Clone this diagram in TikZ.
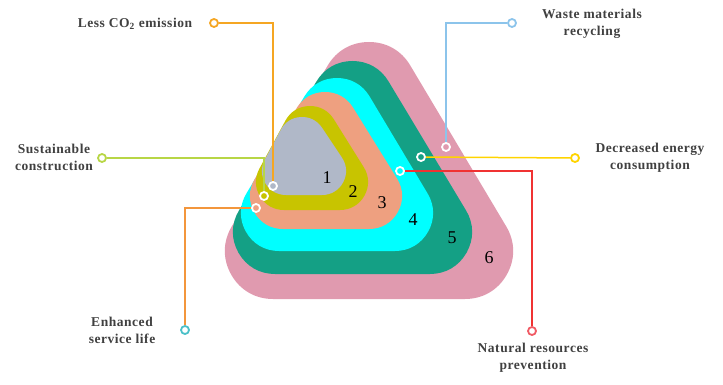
\documentclass[tikz,border=0pt]{standalone}
\usepackage{fontspec}
\setmainfont{Liberation Serif}
\newfontfamily\lblfont[LetterSpace=4]{Liberation Serif}
\definecolor{layerA}{RGB}{176,184,200}
\definecolor{layerB}{RGB}{200,196,0}
\definecolor{layerC}{RGB}{238,160,128}
\definecolor{layerD}{RGB}{0,255,255}
\definecolor{layerE}{RGB}{20,160,133}
\definecolor{layerF}{RGB}{224,154,175}
\definecolor{labelgray}{RGB}{64,64,64}
\definecolor{coOrange}{RGB}{245,166,35}
\definecolor{susGreen}{RGB}{184,214,70}
\definecolor{enhOrange}{RGB}{243,150,60}
\definecolor{enhTeal}{RGB}{75,192,200}
\definecolor{wasBlue}{RGB}{140,196,235}
\definecolor{decYellow}{RGB}{255,212,0}
\definecolor{natRed}{RGB}{240,50,50}
\definecolor{natPink}{RGB}{240,90,100}
\tikzset{
  layer/.style={line join=round},
  ring/.style={circle, draw, line width=1.8pt, inner sep=0pt, minimum size=8pt},
  endring/.style={ring, fill=white},
  onring/.style={ring, draw=white},
  lead/.style={line width=1.5pt},
  lbl/.style={align=center, text=labelgray, font=\lblfont\bfseries\fontsize{13.5}{17}\selectfont},
  num/.style={font=\fontsize{18}{18}\selectfont}
}
\begin{document}
\begin{tikzpicture}[x=1pt, y=-1pt]
        \useasboundingbox (0,0) rectangle (723,385);

        % Layers
        \filldraw[layer, fill=layerF, draw=layerF, line width=96pt] (273,251) -- (465,251) -- (369,90) -- cycle;
        \filldraw[layer, fill=layerE, draw=layerE, line width=84pt] (275,232) -- (430,232) -- (352.5,103) -- cycle;
        \filldraw[layer, fill=layerD, draw=layerD, line width=76pt] (279,213) -- (395,213) -- (337,116) -- cycle;
        \filldraw[layer, fill=layerC, draw=layerC, line width=66pt] (283,196) -- (369,196) -- (325,125) -- cycle;
        \filldraw[layer, fill=layerB, draw=layerB, line width=56pt] (284,182) -- (340,182) -- (310,134) -- cycle;
        \filldraw[layer, fill=layerA, draw=layerA, line width=48pt] (286,171) -- (322,171) -- (302,141) -- cycle;

        % Numbers
        \node[num] (n1) at (327,178) {1};
        \node[num] (n2) at (353,192) {2};
        \node[num] (n3) at (382,203) {3};
        \node[num] (n4) at (413,220) {4};
        \node[num] (n5) at (452,238) {5};
        \node[num] (n6) at (489,258) {6};

        % Points on the layers
        \node[onring] (pCO) at (273,186) {};
        \node[onring] (pSus) at (264,196) {};
        \node[onring] (pEnh) at (256,208) {};
        \node[onring] (pNat) at (400,171) {};
        \node[onring] (pDec) at (421,157) {};
        \node[onring] (pWas) at (446,147) {};

        % End markers
        \node[endring, draw=coOrange] (mCO) at (214,23) {};
        \node[endring, draw=susGreen] (mSus) at (102,158) {};
        \node[endring, draw=enhTeal] (mEnh) at (185,330) {};
        \node[endring, draw=wasBlue] (mWas) at (512,23) {};
        \node[endring, draw=decYellow] (mDec) at (575,158) {};
        \node[endring, draw=natPink] (mNat) at (532,331) {};

        % Labels
        \node[lbl] (tCO) at (135,24) {Less CO\textsubscript{2} emission};
        \node[lbl] (tSus) at (54,157) {Sustainable\\construction};
        \node[lbl] (tEnh) at (122,330) {Enhanced\\service life};
        \node[lbl] (tWas) at (592,24) {Waste materials\\recycling};
        \node[lbl] (tDec) at (650,158) {Decreased energy\\consumption};
        \node[lbl] (tNat) at (533,358) {Natural resources\\prevention};

        % Leads
        \draw[lead, coOrange] (mCO) -| (pCO);
        \draw[lead, susGreen] (mSus) -| (pSus);
        \draw[lead, enhOrange] (mEnh) |- (pEnh);
        \draw[lead, wasBlue] (mWas) -| (pWas);
        \draw[lead, decYellow] (mDec) -- (pDec);
        \draw[lead, natRed] (mNat) |- (pNat);
\end{tikzpicture}
\end{document}
